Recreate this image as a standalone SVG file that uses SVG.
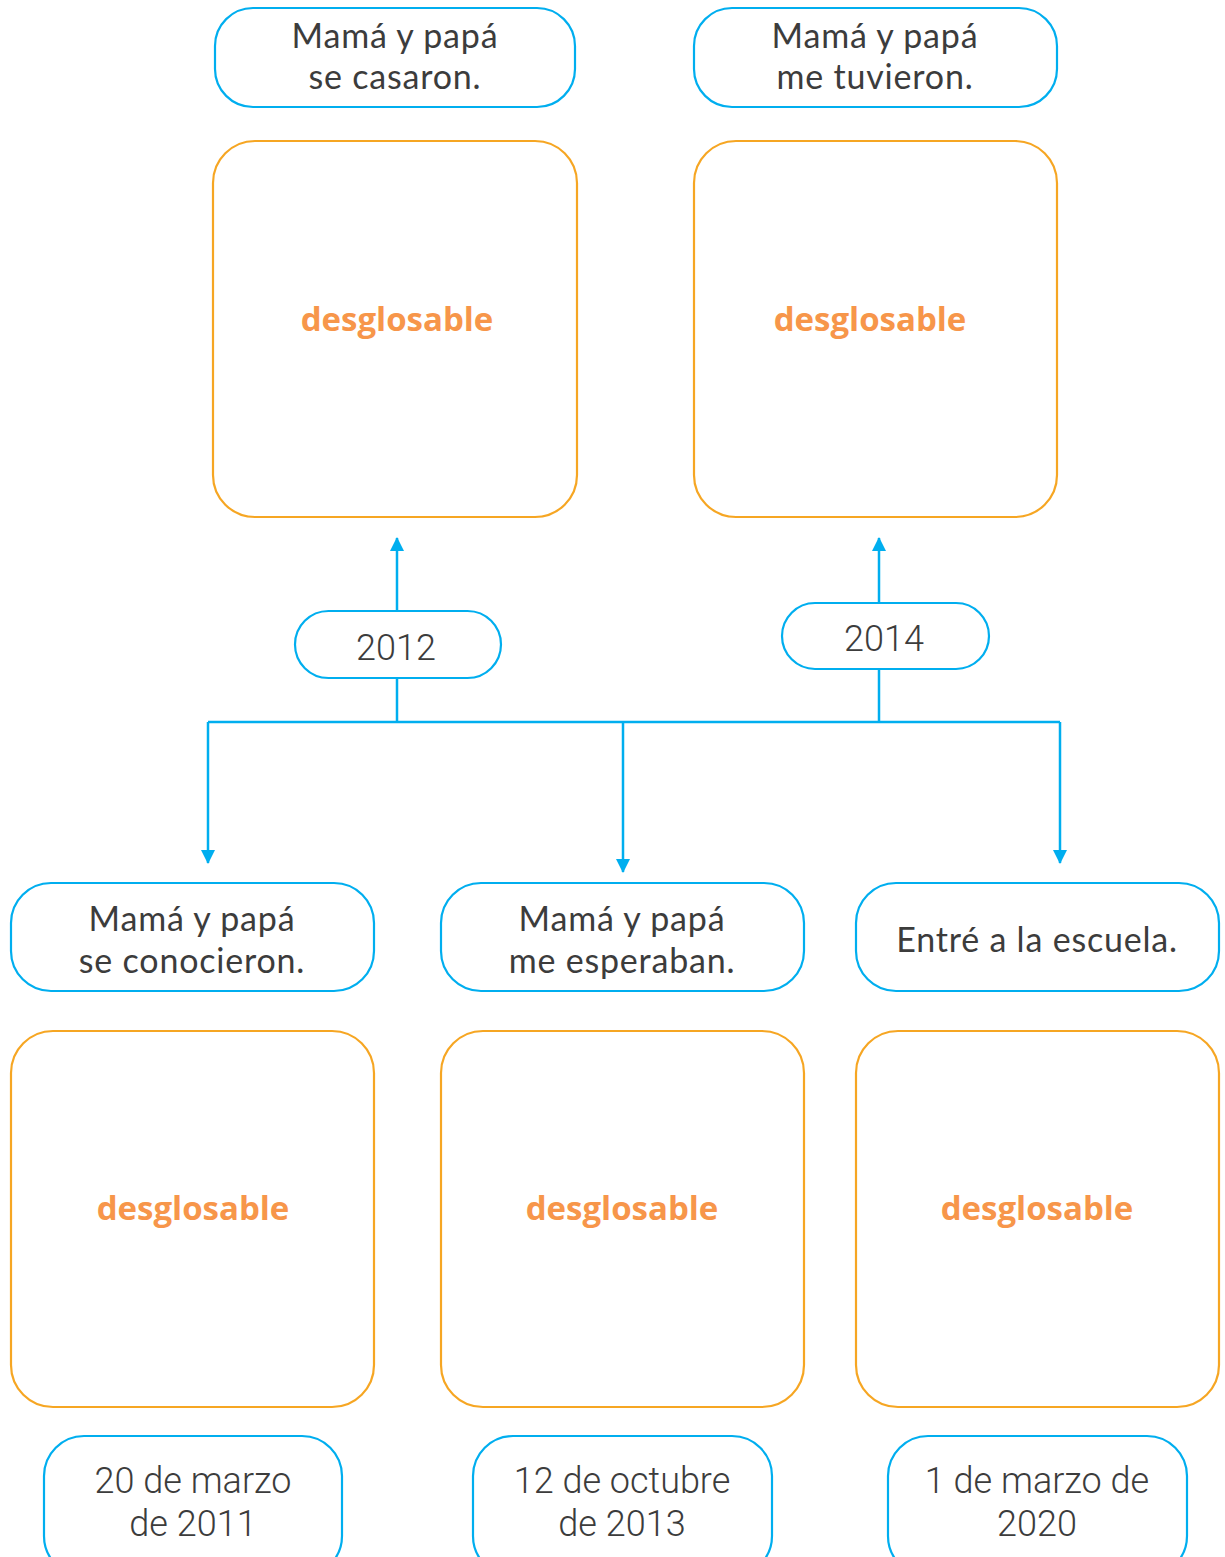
<svg xmlns="http://www.w3.org/2000/svg" width="1225" height="1557" viewBox="0 0 1225 1557">
<defs>
<style>
.lbl{fill:#fff;stroke:#00aeef;stroke-width:2.2}
.pic{fill:#fff;stroke:#f6a623;stroke-width:2.2}
.t{font-family:Lato,"Open Sans",sans-serif;font-size:34px;letter-spacing:0.8px;fill:#3c3c3c;text-anchor:middle}
.d{font-family:"Open Sans","Noto Sans",sans-serif;font-size:33px;font-weight:bold;fill:#f7964a;text-anchor:middle}
.y{font-family:Roboto,"Noto Sans",sans-serif;font-size:36px;font-weight:300;fill:#3c3c3c;text-anchor:middle}
.c{fill:none;stroke:#00aeef;stroke-width:2.5}
</style>
<marker id="ah" viewBox="0 0 14 18" refX="13" refY="9" markerWidth="14" markerHeight="18" markerUnits="userSpaceOnUse" orient="auto">
<path d="M0,2 L14,9 L0,16 Z" fill="#00aeef"/>
</marker>
</defs>
<rect width="1225" height="1557" fill="#fff"/>
<g id="connectors">
<line class="c" x1="397" y1="611" x2="397" y2="538" marker-end="url(#ah)"/>
<line class="c" x1="879" y1="603" x2="879" y2="538" marker-end="url(#ah)"/>
<line class="c" x1="397" y1="678" x2="397" y2="722"/>
<line class="c" x1="879" y1="669" x2="879" y2="722"/>
<polyline class="c" points="208,722 1060,722"/>
<line class="c" x1="208" y1="722" x2="208" y2="863" marker-end="url(#ah)"/>
<line class="c" x1="623" y1="722" x2="623" y2="872" marker-end="url(#ah)"/>
<line class="c" x1="1060" y1="722" x2="1060" y2="863" marker-end="url(#ah)"/>
</g>
<g id="n_casaron">
<rect class="lbl" x="215" y="8" width="360" height="99" rx="38"/>
<text class="t" x="395" y="48">Mamá y papá</text>
<text class="t" x="395" y="89">se casaron.</text>
</g>
<g id="p_casaron">
<rect class="pic" x="213" y="141" width="364" height="376" rx="42"/>
<text class="d" x="397" y="331">desglosable</text>
</g>
<g id="n_tuvieron">
<rect class="lbl" x="694" y="8" width="363" height="99" rx="38"/>
<text class="t" x="875" y="48">Mamá y papá</text>
<text class="t" x="875" y="89">me tuvieron.</text>
</g>
<g id="p_tuvieron">
<rect class="pic" x="694" y="141" width="363" height="376" rx="42"/>
<text class="d" x="870" y="331">desglosable</text>
</g>
<g id="y2012">
<rect class="lbl" x="295" y="611" width="206" height="67" rx="33.5"/>
<text class="y" x="396" y="660">2012</text>
</g>
<g id="y2014">
<rect class="lbl" x="782" y="603" width="207" height="66" rx="33"/>
<text class="y" x="884" y="651">2014</text>
</g>
<g id="n_conocieron">
<rect class="lbl" x="11" y="883" width="363" height="108" rx="40"/>
<text class="t" x="192" y="931">Mamá y papá</text>
<text class="t" x="192" y="973">se conocieron.</text>
</g>
<g id="p_conocieron">
<rect class="pic" x="11" y="1031" width="363" height="376" rx="42"/>
<text class="d" x="193" y="1220">desglosable</text>
</g>
<g id="n_esperaban">
<rect class="lbl" x="441" y="883" width="363" height="108" rx="40"/>
<text class="t" x="622" y="931">Mamá y papá</text>
<text class="t" x="622" y="973">me esperaban.</text>
</g>
<g id="p_esperaban">
<rect class="pic" x="441" y="1031" width="363" height="376" rx="42"/>
<text class="d" x="622" y="1220">desglosable</text>
</g>
<g id="n_escuela">
<rect class="lbl" x="856" y="883" width="363" height="108" rx="40"/>
<text class="t" x="1037" y="952">Entré a la escuela.</text>
</g>
<g id="p_escuela">
<rect class="pic" x="856" y="1031" width="363" height="376" rx="42"/>
<text class="d" x="1037" y="1220">desglosable</text>
</g>
<g id="d_2011">
<rect class="lbl" x="44" y="1436" width="298" height="140" rx="40"/>
<text class="y" x="193" y="1493">20 de marzo</text>
<text class="y" x="193" y="1536">de 2011</text>
</g>
<g id="d_2013">
<rect class="lbl" x="473" y="1436" width="299" height="140" rx="40"/>
<text class="y" x="622" y="1493">12 de octubre</text>
<text class="y" x="622" y="1536">de 2013</text>
</g>
<g id="d_2020">
<rect class="lbl" x="888" y="1436" width="299" height="140" rx="40"/>
<text class="y" x="1037" y="1493">1 de marzo de</text>
<text class="y" x="1037" y="1536">2020</text>
</g>
</svg>
